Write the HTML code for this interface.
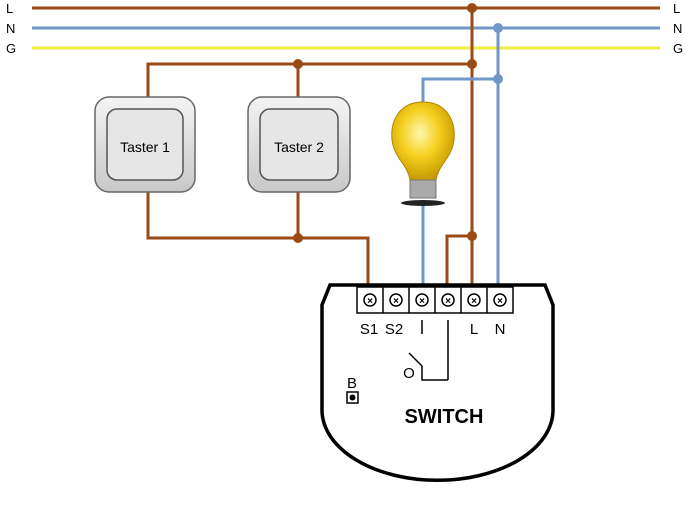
<!DOCTYPE html><html><head><style>body{margin:0;background:#fff}</style></head><body>
<svg width="690" height="500" xmlns="http://www.w3.org/2000/svg" font-family="Liberation Sans, sans-serif">
<defs><radialGradient id="b" cx="0.45" cy="0.4" r="0.6"><stop offset="0" stop-color="#fff8b0"/><stop offset="0.5" stop-color="#f5d020"/><stop offset="1" stop-color="#c89a00"/></radialGradient>
<linearGradient id="t" x1="0" y1="0" x2="0" y2="1"><stop offset="0" stop-color="#f4f4f4"/><stop offset="1" stop-color="#c8c8c8"/></linearGradient></defs>
<g stroke-width="3" fill="none">
<line x1="32" y1="8" x2="660" y2="8" stroke="#9b4a14"/>
<line x1="32" y1="28" x2="660" y2="28" stroke="#6f97c8"/>
<line x1="32" y1="48" x2="660" y2="48" stroke="#f0ee40"/>
<polyline points="148,97 148,64 472,64" stroke="#9b4a14"/>
<line x1="298" y1="64" x2="298" y2="97" stroke="#9b4a14"/>
<polyline points="148,192 148,238 368,238 368,288" stroke="#9b4a14"/>
<line x1="298" y1="192" x2="298" y2="238" stroke="#9b4a14"/>
<line x1="472" y1="8" x2="472" y2="288" stroke="#9b4a14"/>
<polyline points="472,236 447,236 447,288" stroke="#9b4a14"/>
<line x1="498" y1="28" x2="498" y2="288" stroke="#6f97c8"/>
<polyline points="498,79 423,79 423,105" stroke="#6f97c8"/>
<line x1="423" y1="200" x2="423" y2="288" stroke="#6f97c8"/>
</g>
<g fill="#9b4a14"><circle cx="472" cy="8" r="5"/><circle cx="472" cy="64" r="5"/><circle cx="298" cy="64" r="5"/><circle cx="298" cy="238" r="5"/><circle cx="472" cy="236" r="5"/></g>
<g fill="#6f97c8"><circle cx="498" cy="28" r="5"/><circle cx="498" cy="79" r="5"/></g>
<g font-size="13"><text x="6" y="13">L</text><text x="6" y="33">N</text><text x="6" y="53">G</text><text x="673" y="13">L</text><text x="673" y="33">N</text><text x="673" y="53">G</text></g>
<g><rect x="95" y="97" width="100" height="95" rx="14" fill="url(#t)" stroke="#666" stroke-width="1.5"/><rect x="107" y="109" width="76" height="71" rx="10" fill="#e6e6e6" stroke="#555" stroke-width="1.5"/><text x="145" y="152" font-size="14" text-anchor="middle">Taster 1</text>
<rect x="248" y="97" width="102" height="95" rx="14" fill="url(#t)" stroke="#666" stroke-width="1.5"/><rect x="260" y="109" width="78" height="71" rx="10" fill="#e6e6e6" stroke="#555" stroke-width="1.5"/><text x="299" y="152" font-size="14" text-anchor="middle">Taster 2</text></g>
<path d="M423,102 C400,102 390,120 392,140 C394,158 408,165 410,180 L436,180 C438,165 452,158 454,140 C456,120 446,102 423,102Z" fill="url(#b)" stroke="#b08800"/>
<rect x="410" y="180" width="26" height="18" fill="#aaa" stroke="#777"/>
<ellipse cx="423" cy="203" rx="22" ry="3" fill="#222"/>
<path d="M330,285 L545,285 L553,305 L553,410 A115,70 0 0 1 322,410 L322,305 Z" fill="#fff" stroke="#000" stroke-width="3.5"/>
<g stroke="#000" stroke-width="1.5" fill="#fff">
<rect x="357" y="287" width="156" height="26"/>
<line x1="383" y1="287" x2="383" y2="313"/><line x1="409" y1="287" x2="409" y2="313"/><line x1="435" y1="287" x2="435" y2="313"/><line x1="461" y1="287" x2="461" y2="313"/><line x1="487" y1="287" x2="487" y2="313"/>
<circle cx="370" cy="300" r="6"/><circle cx="396" cy="300" r="6"/><circle cx="422" cy="300" r="6"/><circle cx="448" cy="300" r="6"/><circle cx="474" cy="300" r="6"/><circle cx="500" cy="300" r="6"/>
</g>
<g font-size="10" font-weight="bold" text-anchor="middle"><text x="370" y="304">×</text><text x="396" y="304">×</text><text x="422" y="304">×</text><text x="448" y="304">×</text><text x="474" y="304">×</text><text x="500" y="304">×</text></g>
<g font-size="15" text-anchor="middle"><text x="369" y="334">S1</text><text x="394" y="334">S2</text><text x="474" y="334">L</text><text x="500" y="334">N</text><text x="409" y="378">O</text><text x="352" y="388">B</text></g>
<g stroke="#000" stroke-width="1.5" fill="none"><line x1="422" y1="320" x2="422" y2="334"/><line x1="448" y1="320" x2="448" y2="380"/><polyline points="448,380 422,380 422,366 409,353"/><rect x="347" y="392" width="11" height="11"/></g>
<circle cx="352.5" cy="397.5" r="3" fill="#000"/>
<text x="444" y="423" font-size="20" font-weight="bold" text-anchor="middle">SWITCH</text>
</svg></body></html>
